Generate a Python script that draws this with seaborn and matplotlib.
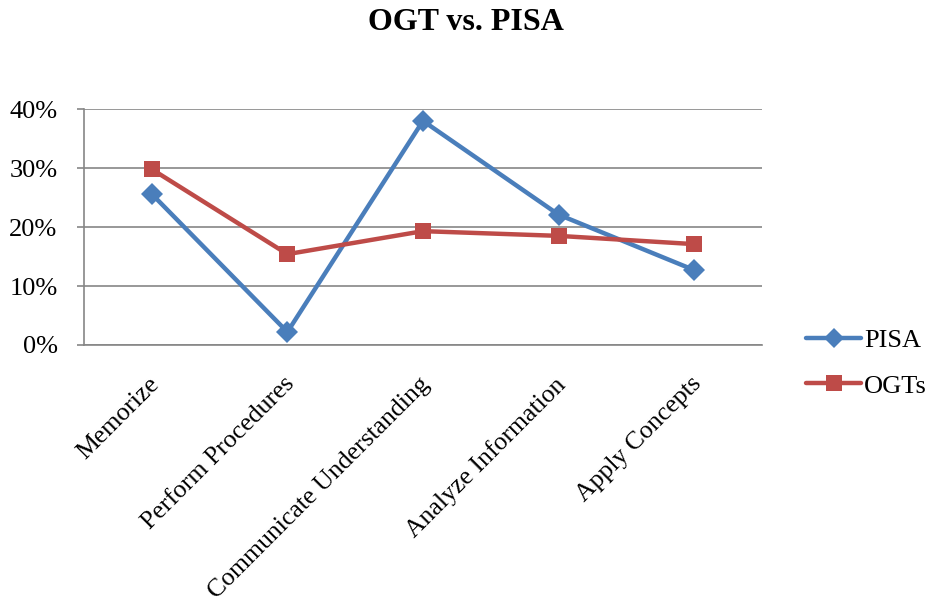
import matplotlib
matplotlib.use("Agg")
import matplotlib.pyplot as plt
import matplotlib.transforms as mtransforms
import seaborn as sns
import pandas as pd
from matplotlib.ticker import PercentFormatter
from matplotlib.lines import Line2D

# =========================
# DATA
# =========================
categories = ["Memorize", "Perform Procedures", "Communicate Understanding",
              "Analyze Information", "Apply Concepts"]
pisa = [0.256, 0.022, 0.380, 0.221, 0.127]
ogts = [0.298, 0.154, 0.193, 0.185, 0.171]
series_names = ["PISA", "OGTs"]

df = pd.DataFrame({
    "category": categories * 2,
    "pos": list(range(len(categories))) * 2,
    "value": pisa + ogts,
    "series": [series_names[0]] * len(categories) + [series_names[1]] * len(categories),
})

# =========================
# STYLE
# =========================
sns.set_theme(style="white")
plt.rcParams["font.family"] = ["Liberation Serif", "DejaVu Serif"]
plt.rcParams["text.color"] = "black"
plt.rcParams["xtick.labelcolor"] = "black"
plt.rcParams["ytick.labelcolor"] = "black"

grid_col = "#868686"
palette = {"PISA": "#4A7EBB", "OGTs": "#BE4B48"}

fig = plt.figure(figsize=(9.28, 6.08), dpi=100)
ax = fig.add_axes([0.0905, 0.4326, 0.7306, 0.388])

sns.lineplot(
    data=df, x="pos", y="value", hue="series", style="series",
    markers={"PISA": "D", "OGTs": "s"}, dashes=False,
    palette=palette, linewidth=3.2, markersize=11, markeredgewidth=0,
    ax=ax, legend=False, zorder=3,
)

ax.set_xlim(-0.5, len(categories) - 0.5)
ax.set_ylim(0, 0.40)
ax.set_yticks([0, 0.1, 0.2, 0.3, 0.4])
ax.yaxis.set_major_formatter(PercentFormatter(1.0, decimals=0))
ax.yaxis.grid(True, color=grid_col, linewidth=1.2)
ax.xaxis.grid(False)
ax.set_axisbelow(True)

# category labels at centers, tick marks at boundaries
ax.set_xticks(range(len(categories)))
ax.set_xticklabels(categories, rotation=45, ha="right", rotation_mode="anchor",
                   fontsize=18.5)
ax.tick_params(axis="x", length=0, pad=23)
shift = mtransforms.ScaledTranslation(-4 / 100, 4 / 100, fig.dpi_scale_trans)
for lbl in ax.get_xticklabels():
    lbl.set_transform(lbl.get_transform() + shift)
ax.set_xticks([i - 0.5 for i in range(len(categories) + 1)], minor=True)
ax.tick_params(axis="x", which="minor", length=7, color=grid_col, width=1.2,
               direction="out")
ax.tick_params(axis="y", length=5, color=grid_col, width=1.2, labelsize=19,
               pad=14, left=True)

ax.set_xlabel("")
ax.set_ylabel("")
for side in ["top", "right"]:
    ax.spines[side].set_visible(False)
for side in ["left", "bottom"]:
    ax.spines[side].set_color(grid_col)
    ax.spines[side].set_linewidth(1.2)

fig.text(0.502, 0.963, "OGT vs. PISA", fontsize=23, fontweight="bold",
         ha="center", va="center", color="black")

# legend to the right
handles = [
    Line2D([], [], color=palette["PISA"], marker="D", linewidth=3.2,
           markersize=10, markeredgewidth=0),
    Line2D([], [], color=palette["OGTs"], marker="s", linewidth=3.2,
           markersize=11, markeredgewidth=0),
]
fig.legend(handles, series_names, loc="center left",
           bbox_to_anchor=(0.857, 0.403), frameon=False, fontsize=19,
           handlelength=2.1, handletextpad=0.1, labelspacing=0.85,
           borderaxespad=0, labelcolor="black")

fig.savefig("out.png", dpi=100)
